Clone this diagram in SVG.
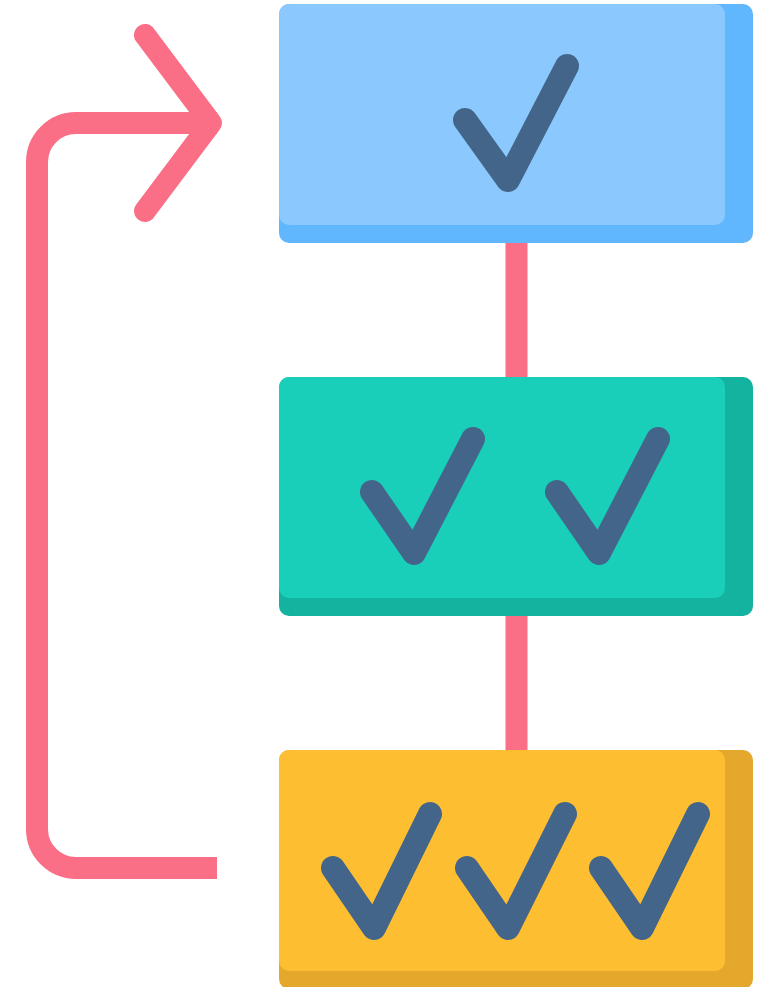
<svg xmlns="http://www.w3.org/2000/svg" width="762" height="987" viewBox="0 0 762 987">
<style>
.line{fill:none;stroke:#FA6E86;stroke-width:22}
.chk{fill:none;stroke:#43658A;stroke-width:24;stroke-linecap:round;stroke-linejoin:round}
</style>
<rect width="762" height="987" fill="#FFFFFF"/>
<g id="connectors">
<line class="line" x1="516.5" y1="240" x2="516.5" y2="380"/>
<line class="line" x1="516.5" y1="612" x2="516.5" y2="753"/>
<path class="line" d="M217 123 H76 A39 39 0 0 0 37 162 V829 A39 39 0 0 0 76 868 H217"/>
<polyline class="line" points="145,35 211,123 145,211" stroke-linecap="round" stroke-linejoin="round"/>
</g>
<g id="node1">
<rect x="279" y="4" width="474" height="239" rx="10" fill="#60B7FE"/>
<rect x="279" y="4" width="446" height="221" rx="10" fill="#8AC8FD"/>
<polyline class="chk" points="465,120 508,180 567,66"/>
</g>
<g id="node2">
<rect x="279" y="377" width="474" height="239" rx="10" fill="#14B3A0"/>
<rect x="279" y="377" width="446" height="221" rx="10" fill="#1ACFB9"/>
<polyline class="chk" points="372,492 414,553 473,439"/>
<polyline class="chk" points="557,492 599,553 658,439"/>
</g>
<g id="node3">
<rect x="279" y="750" width="474" height="239" rx="10" fill="#E4A82C"/>
<rect x="279" y="750" width="446" height="221" rx="10" fill="#FDBE31"/>
<polyline class="chk" points="333,868 374,928 430,814"/>
<polyline class="chk" points="467,868 508,928 565,814"/>
<polyline class="chk" points="601,868 642,928 698,814"/>
</g>
</svg>
